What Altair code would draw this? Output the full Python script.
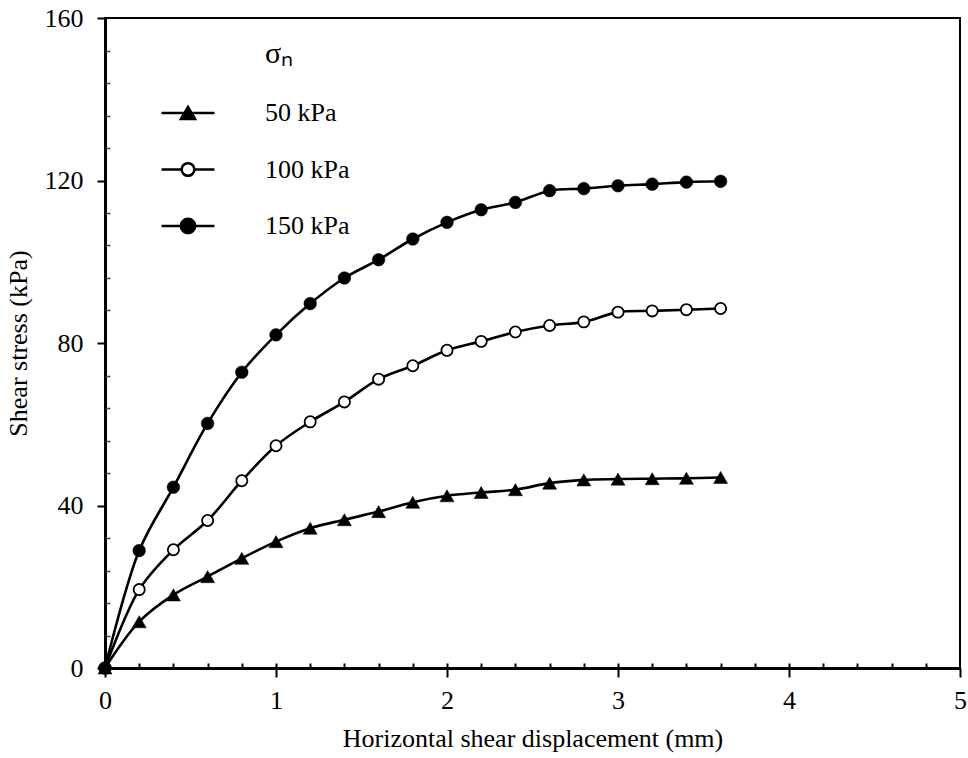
import altair as alt
import pandas as pd

# ---- data ----
disp = [0.0, 0.2, 0.4, 0.6, 0.8, 1.0, 1.2, 1.4, 1.6, 1.8, 2.0, 2.2, 2.4, 2.6, 2.8, 3.0, 3.2, 3.4, 3.6]
tau_50 = [0, 11.4, 18.0, 22.5, 27.0, 31.1, 34.4, 36.5, 38.5, 40.8, 42.4, 43.2, 43.9, 45.5, 46.3, 46.5, 46.6, 46.7, 46.9]
tau_100 = [0, 19.3, 29.1, 36.3, 46.1, 54.7, 60.6, 65.5, 71.1, 74.4, 78.2, 80.4, 82.7, 84.3, 85.2, 87.6, 87.9, 88.2, 88.5]
tau_150 = [0, 28.9, 44.5, 60.2, 72.8, 82.0, 89.7, 96.0, 100.5, 105.6, 109.7, 112.8, 114.6, 117.5, 118.0, 118.7, 119.1, 119.6, 119.8]
series = ["50 kPa", "100 kPa", "150 kPa"]

x_major = [0, 1, 2, 3, 4, 5]
x_minor = [0.2, 0.4, 0.6, 0.8, 1, 1.2, 1.4, 1.6, 1.8, 2, 2.2, 2.4, 2.6, 2.8, 3,
           3.2, 3.4, 3.6, 3.8, 4, 4.2, 4.4, 4.6, 4.8]
y_major = [0, 40, 80, 120, 160]
y_minor = [8, 16, 24, 32, 48, 56, 64, 72, 88, 96, 104, 112, 128, 136, 144, 152]

rows = []
for name, vals in zip(series, [tau_50, tau_100, tau_150]):
    for d, t in zip(disp, vals):
        rows.append({"disp": d, "tau": t, "series": name})
df = pd.DataFrame(rows)

FONT = "Liberation Serif"
xs = alt.Scale(domain=[0, 5], nice=False, zero=False)
ys = alt.Scale(domain=[0, 160], nice=False)

base = alt.Chart(df)

major_x = alt.Axis(orient="bottom", values=x_major, title="Horizontal shear displacement (mm)",
                   tickSize=9, tickWidth=2, tickColor="black", labelPadding=10, titlePadding=12,
                   domain=True, domainWidth=3, domainColor="black", grid=False, format="d",
                   labelFlush=False)
major_y = alt.Axis(orient="left", values=y_major, title="Shear stress (kPa)",
                   tickSize=8, tickWidth=2, tickColor="black", labelPadding=14, titlePadding=13,
                   domain=True, domainWidth=3, domainColor="black", grid=False, format="d")
minor_x = alt.Axis(orient="bottom", values=x_minor, title="", labels=False, tickSize=5,
                   tickWidth=2, tickColor="black", offset=-5, domain=False, grid=False)
minor_y = alt.Axis(orient="left", values=y_minor, title="", labels=False, tickSize=5,
                   tickWidth=1.5, tickColor="#444444", offset=-5, domain=False, grid=False)

lines = base.mark_line(interpolate="catmull-rom", color="black", strokeWidth=2.6).encode(
    x=alt.X("disp:Q", scale=xs, axis=major_x),
    y=alt.Y("tau:Q", scale=ys, axis=major_y),
    detail="series:N",
)

p50 = base.transform_filter(alt.datum.series == "50 kPa").mark_point(
    shape="triangle-up", filled=True, fill="black", stroke="black", strokeWidth=0.5,
    size=196, opacity=1
).encode(
    x=alt.X("disp:Q", scale=xs, axis=minor_x),
    y=alt.Y("tau:Q", scale=ys, axis=minor_y),
)

p100 = base.transform_filter(alt.datum.series == "100 kPa").mark_point(
    shape="circle", filled=True, fill="white", stroke="black", strokeWidth=1.8,
    size=125, opacity=1
).encode(
    x=alt.X("disp:Q", scale=xs, axis=None),
    y=alt.Y("tau:Q", scale=ys, axis=None),
)

p150 = base.transform_filter(alt.datum.series == "150 kPa").mark_point(
    shape="circle", filled=True, fill="black", stroke="black", strokeWidth=0.5,
    size=160, opacity=1
).encode(
    x=alt.X("disp:Q", scale=xs, axis=None),
    y=alt.Y("tau:Q", scale=ys, axis=None),
)

# legend symbols: line segment with marker (paths in [-1, 1] units)
sym_paths = [
    "M-1,0L1,0M0,-0.23L0.27,0.23L-0.27,0.23Z",
    "M-1,0L-0.24,0M0.24,0L1,0M0.24,0A0.24,0.24 0 1,1 -0.24,0A0.24,0.24 0 1,1 0.24,0Z",
    "M-1,0L1,0M0.27,0A0.27,0.27 0 1,1 -0.27,0A0.27,0.27 0 1,1 0.27,0Z",
]
legend_title = "\u200b" + "\u00a0" * 14 + "\u03c3\u2099"
leg_def = alt.Legend(
    title=legend_title, orient="none", legendX=55, legendY=21, padding=0,
    symbolSize=2809, symbolStrokeWidth=2.5, symbolStrokeColor="black", symbolOpacity=1,
    labelFont=FONT, labelFontSize=26, labelColor="black", labelOffset=49, rowPadding=15.5,
    titleFont=FONT, titleFontSize=30, titleFontWeight="normal", titleColor="black",
    titlePadding=16,
)
legend_layer = base.transform_filter("datum.disp < 0").mark_point(
    filled=True, strokeWidth=2.5, opacity=1
).encode(
    x=alt.X("disp:Q", scale=xs, axis=None),
    y=alt.Y("tau:Q", scale=ys, axis=None),
    shape=alt.Shape("series:N", scale=alt.Scale(domain=series, range=sym_paths), legend=leg_def),
    fill=alt.Fill("series:N", scale=alt.Scale(domain=series, range=["black", "white", "black"]),
                  legend=leg_def),
    stroke=alt.Stroke("series:N", scale=alt.Scale(domain=series, range=["black", "black", "black"]),
                      legend=leg_def),
)

chart = alt.layer(lines, p50, p100, p150, legend_layer).resolve_axis(
    x="independent", y="independent"
).properties(
    width=855, height=650,
    autosize=alt.AutoSizeParams(type="none"),
    padding={"left": 105, "top": 18, "right": 8, "bottom": 90},
    background="white",
).configure_view(
    stroke="black", strokeWidth=2
).configure_axis(
    labelFont=FONT, labelFontSize=26, labelColor="black",
    titleFont=FONT, titleFontSize=26, titleFontWeight="normal", titleColor="black",
)

chart.save("out.html", embed_options={"renderer": "svg", "actions": False})
